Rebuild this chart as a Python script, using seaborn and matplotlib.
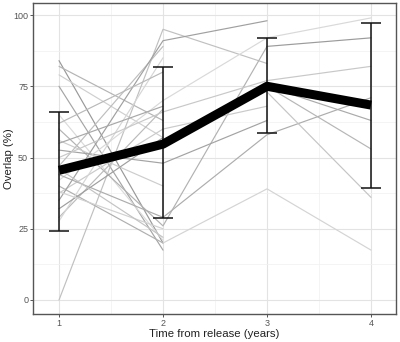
import numpy as np
import pandas as pd
import matplotlib
matplotlib.use("Agg")
import matplotlib.pyplot as plt
import seaborn as sns
from matplotlib.ticker import FixedLocator

# ---- data ----
ind_id = [1, 1, 2, 2, 3, 3, 4, 4, 5, 5, 5, 6, 6, 7, 7, 7, 8, 8, 9, 9, 9,
          10, 10, 11, 11, 11, 11, 12, 12, 13, 13, 13, 14, 14, 14, 15, 15,
          16, 16, 17, 17, 17, 17, 18, 18, 18, 18, 19, 19, 20, 20,
          21, 21, 21, 22, 22, 23, 23, 24, 24, 25, 25, 26, 26, 27, 27, 28, 28]
time = [1, 2, 1, 2, 1, 2, 1, 2, 1, 2, 3, 1, 2, 1, 2, 3, 1, 2, 1, 2, 3,
        1, 2, 1, 2, 3, 4, 1, 2, 1, 2, 3, 1, 2, 3, 1, 2,
        1, 2, 1, 2, 3, 4, 1, 2, 3, 4, 1, 2, 1, 2,
        2, 3, 4, 3, 4, 3, 4, 3, 4, 3, 4, 1, 2, 1, 2, 1, 2]
overlap = [84, 20, 82, 63, 79, 57, 75, 17.5, 0, 95, 83, 65, 21, 60, 26, 89,
           56, 40, 52.6, 48, 63, 47, 89, 42, 70, 92, 99, 40, 20, 37.5, 60, 68,
           35, 91, 98, 29, 67, 27.7, 85, 44, 29, 58, 71, 50, 66, 77, 82,
           32, 57, 62, 80, 20, 39, 17.5, 75, 63, 73, 36, 89, 92, 75, 53,
           38, 25, 55, 68, 46, 22]

mean_time = [1, 2, 3, 4]
mean_overlap = [45.5, 54.7, 75.0, 68.4]
err_low = [24.2, 28.8, 58.6, 39.3]
err_high = [66.0, 81.8, 92.0, 97.2]

x_ticks = [1, 2, 3, 4]
y_ticks = [0, 25, 50, 75, 100]

df = pd.DataFrame({"id": ind_id, "time": time, "overlap": overlap})
mean_df = pd.DataFrame({"time": mean_time, "overlap": mean_overlap,
                        "lo": err_low, "hi": err_high})

sns.set_theme(style="white")
plt.rcParams["font.family"] = ["Liberation Sans", "DejaVu Sans"]

fig = plt.figure(figsize=(4.0, 3.42), dpi=100)
ax = fig.add_axes([0.0825, 0.082, 0.9075, 0.909])

ids = sorted(df["id"].unique())
n_ids = len(ids)
levels = np.linspace(0.60, 0.86, n_ids)
order = [(i * 11) % n_ids for i in range(n_ids)]
palette = {ids[i]: (levels[order[i]],) * 3 for i in range(n_ids)}

sns.lineplot(data=df, x="time", y="overlap", units="id", estimator=None,
             hue="id", palette=palette, legend=False, lw=0.85, ax=ax, zorder=2)

ax.errorbar(mean_df["time"], mean_df["overlap"],
            yerr=[mean_df["overlap"] - mean_df["lo"], mean_df["hi"] - mean_df["overlap"]],
            fmt="none", ecolor="#111111", elinewidth=1.1, capsize=7.3, capthick=1.1, zorder=3)

sns.lineplot(data=mean_df, x="time", y="overlap", color="black", lw=6.5,
             ax=ax, zorder=4, solid_capstyle="butt")

ax.set_xlim(0.75, 4.24)
ax.set_ylim(-4.9, 104.2)
ax.xaxis.set_major_locator(FixedLocator(x_ticks))
ax.yaxis.set_major_locator(FixedLocator(y_ticks))
ax.xaxis.set_minor_locator(FixedLocator([1.5, 2.5, 3.5]))
ax.yaxis.set_minor_locator(FixedLocator([12.5, 37.5, 62.5, 87.5]))
ax.grid(True, which="major", color="#e3e3e3", lw=0.8, zorder=0)
ax.grid(True, which="minor", color="#f0f0f0", lw=0.5, zorder=0)
ax.set_axisbelow(True)

for s in ax.spines.values():
    s.set_color("#555555")
    s.set_linewidth(1.0)

ax.tick_params(axis="both", which="major", length=2.5, width=0.7, color="#555555",
               labelsize=6.5, labelcolor="#555555", pad=1.0, bottom=True, left=True)
ax.tick_params(axis="both", which="minor", length=0)

ax.set_xlabel("Time from release (years)", fontsize=8.2, color="#222222")
ax.set_ylabel("Overlap (%)", fontsize=8.2, color="#222222")
ax.xaxis.set_label_coords(0.5, -0.049)
ax.yaxis.set_label_coords(-0.052, 0.5)

fig.savefig("out.png", dpi=100, facecolor="white")
